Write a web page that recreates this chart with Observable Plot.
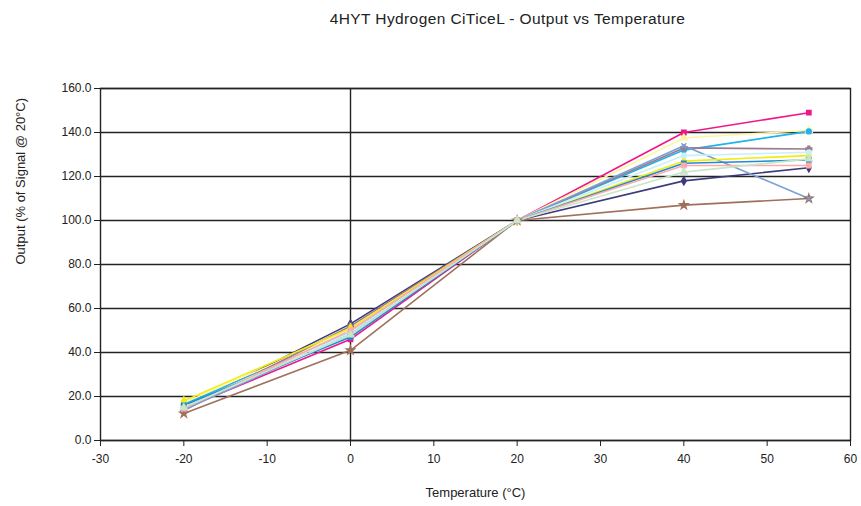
<!DOCTYPE html>
<html>
<head>
<meta charset="utf-8">
<script src="https://cdn.jsdelivr.net/npm/d3@7"></script>
<script src="https://cdn.jsdelivr.net/npm/@observablehq/plot@0.6"></script>
<style>
  body { margin: 0; background: #fff; font-family: "Liberation Sans", Arial, sans-serif; }
  #title { height: 40px; line-height: 38px; text-align: center; font-size: 15.5px; color: #222; padding-left: 154px; letter-spacing: 0.4px; }
</style>
</head>
<body>
<div id="title">4HYT Hydrogen CiTiceL - Output vs Temperature</div>
<div id="chart"></div>
<script>
const temps = [-20, 0, 20, 40, 55];
const seriesNames = ["Cell 1","Cell 2","Cell 3","Cell 4","Cell 5","Cell 6","Cell 7","Cell 8","Cell 9","Cell 10","Cell 11","Cell 12"];
const seriesColors = ["#3c3c7c","#f0168c","#fff7a0","#1eb4eb","#9c7a90","#a0705a","#7ba0d2","#f2ec10","#c8f0fa","#1e8cd2","#ffaaaa","#c8e6c8"];
const seriesSymbols = ["diamond","square","triangle","circle","cross","star","times","diamond","circle","square","square","triangle"];
const values = [
  [15.0, 53.0, 100, 118.0, 124.0],
  [14.5, 46.0, 100, 140.0, 149.0],
  [17.0, 50.0, 100, 137.5, 141.0],
  [16.4, 49.0, 100, 132.0, 140.5],
  [13.6, 52.0, 100, 133.0, 132.5],
  [12.3, 41.0, 100, 107.0, 110.0],
  [14.0, 48.0, 100, 134.0, 110.0],
  [18.0, 51.0, 100, 127.0, 129.5],
  [15.5, 49.0, 100, 129.5, 131.0],
  [16.0, 47.0, 100, 126.0, 127.5],
  [14.5, 50.0, 100, 125.0, 125.0],
  [15.0, 48.0, 100, 122.0, 128.0]
];
const xTicks = [-30, -20, -10, 0, 10, 20, 30, 40, 50, 60];
const yTicks = [0, 20, 40, 60, 80, 100, 120, 140, 160];

const rows = [];
seriesNames.forEach((name, i) => {
  temps.forEach((t, j) => rows.push({series: name, temp: t, value: values[i][j]}));
});

const chart = Plot.plot({
  width: 861,
  height: 466,
  marginLeft: 100,
  marginRight: 11,
  marginTop: 48,
  marginBottom: 66,
  style: {fontFamily: "'Liberation Sans', Arial, sans-serif", fontSize: "12px", color: "#222", background: "#fff"},
  x: {domain: [-30, 60], label: null},
  y: {domain: [0, 160], label: null},
  color: {domain: seriesNames, range: seriesColors},
  symbol: {domain: seriesNames, range: seriesSymbols},
  marks: [
    Plot.ruleY(yTicks, {stroke: "#222", strokeWidth: 1.4}),
    Plot.ruleX([0], {stroke: "#222", strokeWidth: 1.4}),
    Plot.frame({stroke: "#222", strokeWidth: 1.4}),
    Plot.line(rows, {x: "temp", y: "value", z: "series", stroke: "series", strokeWidth: 1.6}),
    Plot.dot(rows, {x: "temp", y: "value", stroke: "series", fill: "series", symbol: "series", r: 2.4}),
    Plot.axisX({ticks: xTicks, tickSize: 6, tickPadding: 8, label: null, fontSize: 12, tickFormat: d => String(d)}),
    Plot.axisY({ticks: yTicks, tickSize: 6, tickPadding: 3, label: null, fontSize: 12, tickFormat: d => d.toFixed(1)}),
    Plot.text(["Temperature (°C)"], {frameAnchor: "bottom", dy: 56, fontSize: 13, fill: "#222"}),
    Plot.text(["Output (% of Signal @ 20°C)"], {frameAnchor: "left", dx: -80, rotate: -90, fontSize: 13, fill: "#222"})
  ]
});
document.getElementById("chart").appendChild(chart);
</script>
</body>
</html>
